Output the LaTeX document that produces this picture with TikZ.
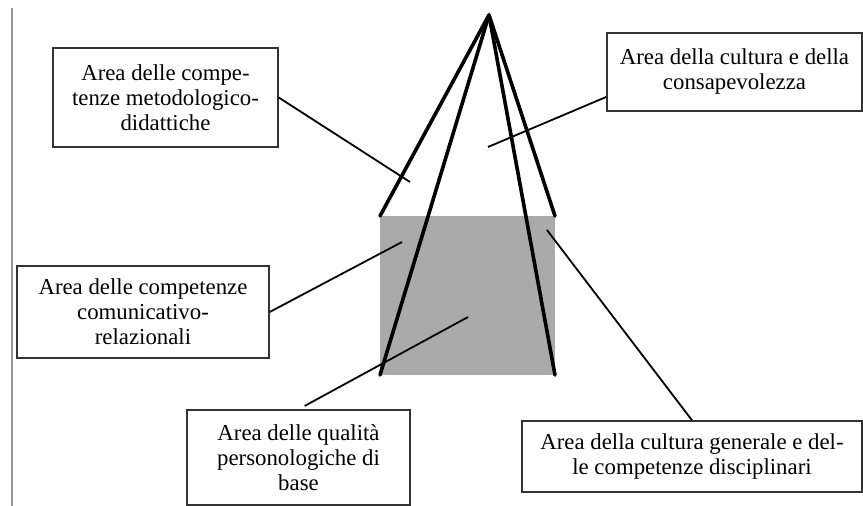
\documentclass[tikz,border=0pt]{standalone}
\usepackage{fontspec}
\setmainfont{Liberation Serif}
\definecolor{basegray}{HTML}{AAAAAA}
\definecolor{rulegray}{HTML}{999999}
\definecolor{boxline}{HTML}{333333}
\tikzset{
    areabox/.style={draw=boxline, line width=1.4pt, align=center, inner sep=0pt,
        font=\fontsize{22.8}{25}\selectfont},
    feeler/.style={line width=1.8pt},
    edge/.style={line width=3.6pt, line cap=round}
}
\begin{document}
\begin{tikzpicture}[x=1pt, y=-1pt]
    \useasboundingbox (0,0) rectangle (863,506);

    % left rule
    \draw[rulegray, line width=1.5pt] (12,8) -- (12,506);

    % base and pyramid
    \coordinate (apex) at (489,15);
    \coordinate (tl) at (380,216);
    \coordinate (tr) at (555,216);
    \coordinate (bl) at (380,375);
    \coordinate (br) at (555,375);
    \fill[basegray] (tl) rectangle (br);
    \foreach \c in {tl, bl, br, tr}
        \draw[edge] (apex) -- (\c);

    % area boxes
    \node[areabox, minimum width=225pt, minimum height=99pt] (metod) at (165.5,97.5)
        {Area delle compe-\\tenze metodologico-\\didattiche};
    \node[areabox, minimum width=255pt, minimum height=78pt] (cult) at (734.5,72)
        {Area della cultura e della\\consapevolezza};
    \node[areabox, minimum width=252pt, minimum height=92pt] (comun) at (143,312)
        {Area delle competenze\\comunicativo-\\relazionali};
    \node[areabox, minimum width=223pt, minimum height=95pt] (qual) at (298.5,457.5)
        {Area delle qualità\\personologiche di\\base};
    \node[areabox, minimum width=340pt, minimum height=71pt] (disc) at (692,456.5)
        {Area della cultura generale e del-\\le competenze disciplinari};

    % pointers
    \coordinate (pmetod) at (410,182);
    \coordinate (pcult) at (488,147);
    \coordinate (pcomun) at (402,242);
    \coordinate (pqual) at (468,317);
    \coordinate (pdisc) at (547,230);
    \draw[feeler] (metod.east) -- (pmetod);
    \draw[feeler] (cult.191) -- (pcult);
    \draw[feeler] (comun.east) -- (pcomun);
    \draw[feeler, shorten <=7pt] (qual.north) -- (pqual);
    \draw[feeler] (disc.north) -- (pdisc);
\end{tikzpicture}
\end{document}
